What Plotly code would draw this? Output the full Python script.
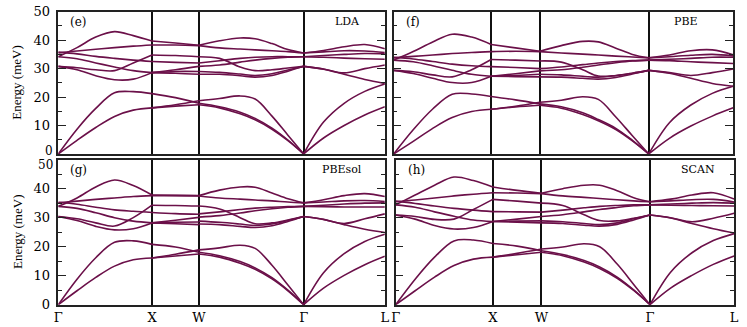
import plotly.graph_objects as go

# k-path (fcc): Γ-X-W-Γ-L, cumulative distance in 2π/a
K_GX = [0.0, 0.2, 0.4, 0.6, 0.8, 1.0]
K_XW = [1.0, 1.25, 1.5]
K_WG = [1.5, 1.72, 1.94, 2.1, 2.28, 2.45, 2.618]
K_GL = [2.618, 2.83, 3.05, 3.27, 3.484]

k_ticks = [0.0, 1.0, 1.5, 2.618, 3.484]
k_labels = ["Γ", "X", "W", "Γ", "L"]
e_ticks = [0, 10, 20, 30, 40, 50]

# ---- (e) LDA ----
lda_gx = [
    [34.2, 37.4, 41.1, 43.0, 41.6, 39.7],
    [35.5, 36.2, 36.8, 37.4, 37.9, 38.3],
    [35.8, 35.2, 34.3, 33.6, 33.0, 32.5],
    [34.2, 33.5, 32.0, 30.6, 29.3, 28.6],
    [30.8, 30.3, 29.6, 29.3, 32.0, 34.8],
    [30.8, 29.6, 27.5, 26.1, 26.3, 28.6],
    [0.0, 8.7, 16.0, 21.5, 21.9, 21.2],
    [0.0, 4.8, 9.3, 13.2, 15.4, 16.2],
]
lda_xw = [
    [39.7, 39.0, 38.2],
    [38.3, 38.3, 38.1],
    [32.5, 32.2, 32.0],
    [34.8, 34.6, 34.2],
    [28.6, 29.6, 30.8],
    [28.6, 29.0, 29.0],
    [28.6, 28.4, 28.0],
    [21.2, 19.8, 17.8],
    [16.2, 17.3, 18.7],
    [16.2, 16.8, 17.3],
]
lda_wg = [
    [38.2, 39.8, 40.8, 40.5, 38.8, 36.7, 35.5],
    [38.1, 37.3, 36.9, 36.6, 36.3, 36.0, 35.5],
    [34.2, 33.6, 30.6, 29.3, 29.6, 30.2, 30.8],
    [32.0, 32.8, 33.6, 34.0, 34.2, 34.2, 34.2],
    [30.8, 31.3, 32.3, 33.0, 33.6, 34.0, 34.2],
    [29.0, 28.7, 28.1, 27.6, 28.2, 29.5, 30.8],
    [28.0, 28.0, 27.5, 27.0, 27.6, 29.1, 30.8],
    [18.7, 19.5, 20.4, 19.3, 13.3, 6.6, 0.0],
    [17.8, 16.6, 14.7, 12.5, 9.1, 4.9, 0.0],
    [17.3, 16.2, 14.1, 12.0, 8.7, 4.7, 0.0],
]
lda_gl = [
    [35.5, 36.4, 37.7, 38.5, 37.0],
    [35.5, 35.9, 36.3, 36.2, 35.7],
    [34.2, 34.6, 35.0, 35.3, 35.2],
    [34.2, 34.0, 33.7, 33.5, 33.3],
    [30.8, 29.9, 28.5, 30.0, 31.3],
    [30.8, 29.8, 28.0, 26.2, 24.8],
    [0.0, 11.2, 17.8, 22.0, 24.6],
    [0.0, 5.6, 10.0, 13.7, 16.6],
]

# ---- (f) PBE ----
pbe_gx = [
    [33.0, 36.0, 39.4, 42.1, 41.1, 38.5],
    [33.8, 34.3, 34.8, 35.3, 35.7, 36.0],
    [34.0, 33.4, 32.5, 31.6, 31.0, 30.7],
    [33.0, 32.4, 31.0, 29.4, 28.0, 27.3],
    [29.4, 28.9, 27.8, 27.1, 29.6, 33.2],
    [29.4, 28.3, 26.6, 25.1, 25.1, 27.3],
    [0.0, 8.5, 15.8, 21.0, 21.1, 20.2],
    [0.0, 4.4, 9.0, 12.8, 14.9, 15.7],
]
pbe_xw = [
    [38.5, 37.3, 36.1],
    [36.0, 36.1, 36.0],
    [30.7, 30.4, 30.0],
    [33.2, 33.0, 32.7],
    [27.3, 28.2, 29.2],
    [27.3, 27.6, 28.0],
    [27.3, 27.2, 27.1],
    [20.2, 19.0, 17.6],
    [15.7, 16.8, 18.2],
    [15.7, 16.5, 17.1],
]
pbe_wg = [
    [36.1, 38.1, 39.6, 39.4, 37.2, 35.0, 33.8],
    [36.0, 35.5, 35.1, 34.8, 34.4, 34.1, 33.8],
    [32.7, 32.3, 29.6, 27.4, 27.6, 28.4, 29.4],
    [30.0, 30.6, 31.4, 32.0, 32.5, 32.8, 33.0],
    [29.2, 29.6, 30.5, 31.3, 32.1, 32.7, 33.0],
    [28.0, 27.8, 27.3, 27.0, 27.5, 28.4, 29.4],
    [27.1, 27.0, 26.6, 26.3, 26.9, 28.1, 29.4],
    [18.2, 18.9, 20.1, 19.2, 13.0, 6.4, 0.0],
    [17.6, 16.6, 14.5, 12.1, 9.0, 4.8, 0.0],
    [17.1, 16.1, 13.9, 11.7, 8.6, 4.6, 0.0],
]
pbe_gl = [
    [33.8, 34.8, 36.3, 36.6, 34.9],
    [33.8, 34.2, 34.7, 35.0, 34.5],
    [33.0, 33.3, 33.6, 34.0, 34.0],
    [33.0, 32.8, 32.4, 32.1, 31.8],
    [29.4, 28.6, 27.6, 28.6, 29.9],
    [29.4, 28.4, 26.6, 24.8, 23.8],
    [0.0, 11.0, 17.2, 21.3, 23.8],
    [0.0, 5.5, 9.8, 13.3, 16.2],
]

# ---- (g) PBEsol ----
pbesol_gx = [
    [33.9, 36.8, 40.6, 43.0, 41.1, 37.8],
    [35.1, 35.7, 36.3, 36.8, 37.3, 37.6],
    [35.3, 34.6, 33.6, 32.7, 32.2, 31.8],
    [33.9, 33.2, 31.7, 30.0, 28.8, 28.2],
    [30.4, 29.6, 28.2, 27.1, 30.0, 34.3],
    [30.4, 29.0, 27.0, 25.8, 26.2, 28.2],
    [0.0, 8.8, 16.2, 21.5, 22.0, 20.8],
    [0.0, 4.8, 9.4, 13.3, 15.5, 16.1],
]
pbesol_xw = [
    [37.8, 37.7, 37.6],
    [37.6, 37.6, 37.5],
    [31.8, 31.4, 31.2],
    [34.3, 34.2, 34.0],
    [28.2, 29.1, 30.1],
    [28.2, 28.4, 28.5],
    [28.2, 27.9, 27.6],
    [20.8, 19.9, 18.1],
    [16.1, 17.4, 18.9],
    [16.1, 16.8, 17.5],
]
pbesol_wg = [
    [37.6, 39.5, 40.6, 40.5, 38.5, 36.5, 35.1],
    [37.5, 36.8, 36.4, 36.1, 35.8, 35.4, 35.1],
    [34.0, 33.0, 30.0, 27.9, 28.2, 29.2, 30.4],
    [31.3, 32.0, 32.8, 33.3, 33.6, 33.8, 33.9],
    [30.2, 30.7, 31.6, 32.4, 33.1, 33.6, 33.9],
    [28.8, 28.4, 27.8, 27.3, 27.8, 29.0, 30.4],
    [27.8, 27.6, 27.0, 26.6, 27.2, 28.7, 30.4],
    [18.9, 19.6, 20.5, 19.4, 13.6, 6.8, 0.0],
    [18.1, 16.9, 14.9, 12.7, 9.3, 5.0, 0.0],
    [17.5, 16.4, 14.3, 12.2, 8.9, 4.8, 0.0],
]
pbesol_gl = [
    [35.1, 36.2, 37.6, 38.3, 37.3],
    [35.1, 35.4, 35.8, 35.9, 35.6],
    [33.9, 34.3, 34.7, 35.0, 35.1],
    [33.9, 33.8, 33.7, 33.7, 33.7],
    [30.4, 29.4, 28.0, 29.6, 31.3],
    [30.4, 29.4, 27.6, 26.0, 24.9],
    [0.0, 11.0, 17.6, 21.8, 24.3],
    [0.0, 5.7, 10.1, 13.8, 16.7],
]

# ---- (h) SCAN ----
scan_gx = [
    [34.4, 37.8, 41.2, 44.0, 42.8, 40.6],
    [35.5, 36.1, 36.8, 37.5, 38.1, 38.6],
    [35.7, 34.9, 34.0, 33.2, 32.6, 32.1],
    [34.4, 33.6, 32.0, 30.5, 29.2, 28.7],
    [30.9, 30.4, 29.4, 29.5, 32.8, 36.3],
    [30.9, 29.5, 27.3, 26.1, 26.6, 28.7],
    [0.0, 8.8, 16.4, 22.0, 22.3, 21.1],
    [0.0, 4.8, 9.5, 13.5, 15.7, 16.4],
]
scan_xw = [
    [40.6, 39.4, 38.4],
    [38.6, 38.5, 38.3],
    [32.1, 32.0, 31.9],
    [36.3, 35.7, 35.0],
    [28.7, 29.5, 30.4],
    [28.7, 28.8, 28.9],
    [28.7, 28.4, 28.2],
    [21.1, 20.2, 18.6],
    [16.4, 17.7, 19.2],
    [16.4, 17.2, 18.1],
]
scan_wg = [
    [38.4, 40.0, 41.2, 41.2, 39.3, 36.9, 35.5],
    [38.3, 37.5, 37.0, 36.6, 36.2, 35.8, 35.5],
    [35.0, 34.2, 31.0, 29.0, 28.9, 29.8, 30.9],
    [31.9, 32.6, 33.4, 33.9, 34.2, 34.4, 34.4],
    [30.4, 31.0, 32.0, 32.8, 33.5, 34.1, 34.4],
    [28.9, 28.6, 28.0, 27.6, 28.2, 29.6, 30.9],
    [28.2, 28.0, 27.4, 27.1, 27.7, 29.2, 30.9],
    [19.2, 19.9, 21.0, 20.0, 14.0, 7.0, 0.0],
    [18.6, 17.3, 15.2, 13.0, 9.5, 5.1, 0.0],
    [18.1, 16.9, 14.7, 12.5, 9.1, 4.9, 0.0],
]
scan_gl = [
    [35.5, 36.4, 37.8, 38.6, 36.4],
    [35.5, 35.8, 36.2, 36.3, 35.4],
    [34.4, 34.7, 35.0, 35.2, 35.0],
    [34.4, 34.3, 34.2, 34.1, 34.0],
    [30.9, 30.0, 28.6, 29.8, 31.5],
    [30.9, 29.9, 28.0, 26.2, 24.7],
    [0.0, 11.2, 17.9, 22.1, 24.5],
    [0.0, 5.7, 10.1, 13.9, 16.8],
]

BAND = "#6b1049"
FONT = "Liberation Serif"
WIDE = "DejaVu Serif"
W, H = 747, 327

panels = [
    # tag, label, method, bands, x px span, y px span (top, bottom), method label centre x
    ("", "(e)", "LDA", (lda_gx, lda_xw, lda_wg, lda_gl), (54, 385), (5, 154), 347),
    ("2", "(f)", "PBE", (pbe_gx, pbe_xw, pbe_wg, pbe_gl), (394, 738), (5, 154), 690),
    ("3", "(g)", "PBEsol", (pbesol_gx, pbesol_xw, pbesol_wg, pbesol_gl), (54, 385), (160, 312), 342),
    ("4", "(h)", "SCAN", (scan_gx, scan_xw, scan_wg, scan_gl), (396, 739), (160, 312), 702),
]

fig = go.Figure()
layout = {}
annotations = []
tick_font = dict(family=WIDE, size=13, color="black")
edge_font = dict(family=WIDE, size=12, color="black")

for i, (tag, label, method, segs, xs, ys, mx) in enumerate(panels):
    for kk, seg in zip((K_GX, K_XW, K_WG, K_GL), segs):
        for band in seg:
            fig.add_trace(go.Scatter(
                x=kk, y=band, mode="lines",
                line=dict(color=BAND, width=1.6, shape="spline", smoothing=1.0),
                xaxis="x" + tag, yaxis="y" + tag,
                hoverinfo="skip", showlegend=False,
            ))

    bottom = i >= 2
    left = i % 2 == 0

    # labels at the panel join (0 of upper, 50 of lower) are nudged apart
    if bottom:
        ticktext = ["0", "10", "20", "30", "40", ""]
        edge_text, edge_y = "50", ys[0] + 6
    else:
        ticktext = ["", "10", "20", "30", "40", "50"]
        edge_text, edge_y = "0", ys[1] - 3
    if left:
        annotations.append(dict(
            x=(xs[0] - 4) / W, y=1 - edge_y / H, xref="paper", yref="paper",
            text=edge_text, showarrow=False, xanchor="right", yanchor="middle",
            borderpad=0, font=edge_font,
        ))

    layout["xaxis" + tag] = dict(
        domain=[xs[0] / W, xs[1] / W],
        anchor="y" + tag,
        range=[0, 3.484],
        tickvals=k_ticks,
        ticktext=k_labels,
        showticklabels=bottom,
        ticks="",
        showgrid=True, gridcolor="#111", gridwidth=1.5,
        showline=True, linecolor="#222", linewidth=1.5, mirror=True,
        zeroline=False,
        tickfont=tick_font,
    )
    layout["yaxis" + tag] = dict(
        domain=[1 - ys[1] / H, 1 - ys[0] / H],
        anchor="x" + tag,
        range=[0, 50],
        tickvals=e_ticks,
        ticktext=ticktext,
        showticklabels=left,
        ticklabeloverflow="allow",
        ticks="inside", ticklen=8, tickwidth=1.2, tickcolor="#222",
        ticklabelstandoff=4,
        minor=dict(dtick=5, ticks="inside", ticklen=4, tickwidth=1, tickcolor="#222", showgrid=False),
        showgrid=False, zeroline=False,
        showline=True, linecolor="#222", linewidth=1.5, mirror="ticks",
        tickfont=tick_font,
    )

    annotations.append(dict(
        x=(xs[0] + 10) / W, y=1 - (ys[0] + 11) / H, xref="paper", yref="paper",
        text=label, showarrow=False, xanchor="left", yanchor="middle",
        font=dict(family=WIDE, size=12, color="black"),
    ))
    annotations.append(dict(
        x=mx / W, y=1 - (ys[0] + 10) / H, xref="paper", yref="paper",
        text=method, showarrow=False, xanchor="center", yanchor="middle",
        font=dict(family=WIDE, size=11, color="black"),
    ))
    if left:
        annotations.append(dict(
            x=12 / W, y=1 - (ys[0] + ys[1]) / 2 / H, xref="paper", yref="paper",
            text="Energy (meV)", showarrow=False, textangle=-90,
            xanchor="center", yanchor="middle",
            font=dict(family=FONT, size=13, color="black"),
        ))

fig.update_layout(
    width=W,
    height=H,
    margin=dict(l=0, r=0, t=0, b=0),
    paper_bgcolor="white",
    plot_bgcolor="white",
    showlegend=False,
    annotations=annotations,
    **layout,
)

fig.write_html(
    "out.html",
    config={"displayModeBar": False},
    post_script="document.body.style.margin='0px';",
)
